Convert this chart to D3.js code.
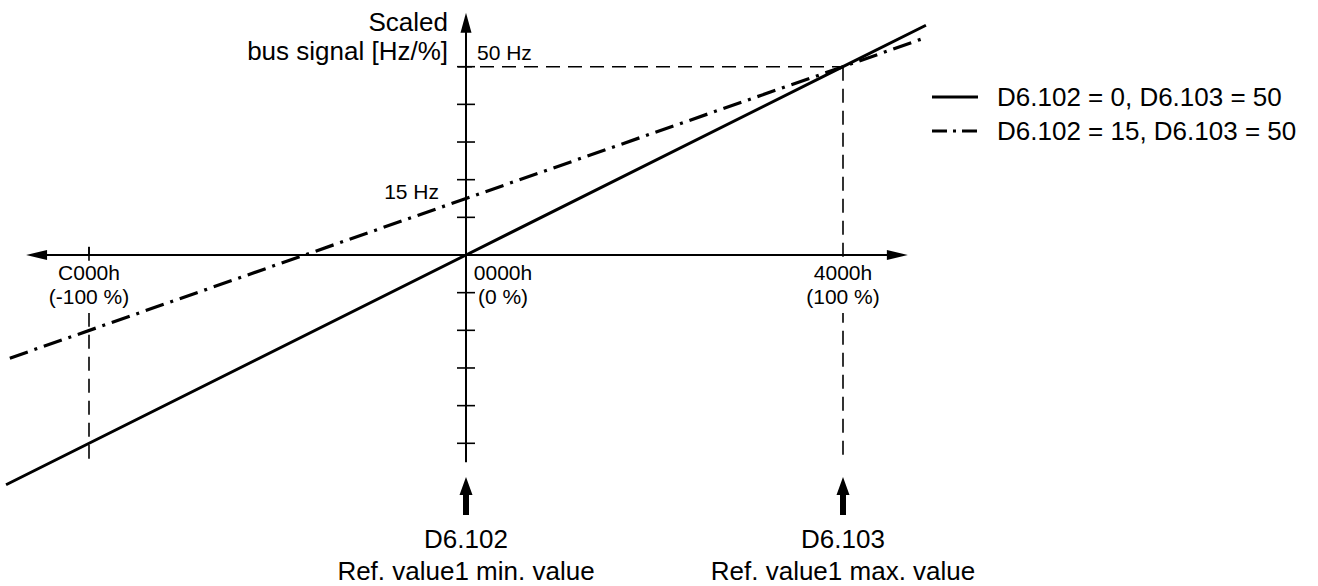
<!DOCTYPE html>
<html>
<head>
<meta charset="utf-8">
<script src="https://cdn.jsdelivr.net/npm/d3@7"></script>
<style>
  html, body { margin: 0; padding: 0; background: #fff; }
  svg { display: block; font-family: "Liberation Sans", Arial, sans-serif; }
</style>
</head>
<body>
<figure id="scaling" style="margin:0"></figure>
<script>
// bus signal in % (x) vs scaled value in Hz (y)
const xTicks = [-100, 0, 100];
const xTickHex = ["C000h", "0000h", "4000h"];
const xTickPct = ["(-100 %)", "(0 %)", "(100 %)"];
const yTicks = [-50, -40, -30, -20, -10, 10, 20, 30, 40, 50];
const yMarks = [50, 15];
const yMarkLabels = ["50 Hz", "15 Hz"];

const solidX = [-122, 0, 100, 122];
const solidY = [-61, 0, 50, 61];
const dashDotX = [-121, 0, 100, 121];
const dashDotY = [-27.4, 15, 50, 57.4];

const legendLabels = ["D6.102 = 0, D6.103 = 50", "D6.102 = 15, D6.103 = 50"];
const paramNames = ["D6.102", "D6.103"];
const paramDesc = ["Ref. value1 min. value", "Ref. value1 max. value"];
const paramAt = [0, 100];

const xAxisRange = [-116.7, 117.2];
const yAxisRange = [-55, 64.3];

const width = 1318, height = 586;

const svg = d3.select("#scaling").append("svg")
  .attr("width", width)
  .attr("height", height);

const x = d3.scaleLinear().domain([-100, 100]).range([89, 843]);
const y = d3.scaleLinear().domain([0, 50]).range([255, 66.7]);
const x0 = x(0), yz = y(0);

// dashed guides
const guides = svg.append("g")
  .attr("stroke", "#000")
  .attr("stroke-width", 1.6)
  .attr("stroke-dasharray", "14,8")
  .attr("fill", "none");

guides.append("line")
  .attr("x1", x0 - 8).attr("x2", x(100))
  .attr("y1", y(50)).attr("y2", y(50));
guides.append("line")
  .attr("x1", x(100)).attr("x2", x(100))
  .attr("y1", y(50)).attr("y2", y(yAxisRange[0]));
guides.append("line")
  .attr("x1", x(-100)).attr("x2", x(-100))
  .attr("y1", y(2.2)).attr("y2", y(yAxisRange[0]));

// white boxes behind the x labels break the dashed guides
const xCenters = xTicks.map(t => t === 0 ? x(t) + 37 : x(t));
svg.append("g").selectAll("rect")
  .data(xCenters)
  .join("rect")
  .attr("x", d => d - 44).attr("y", yz + 6)
  .attr("width", 88).attr("height", 52)
  .attr("fill", "#fff");

// axes
const axes = svg.append("g").attr("stroke", "#000").attr("stroke-width", 2);
axes.append("line")
  .attr("x1", x(xAxisRange[0]) + 18).attr("x2", x(xAxisRange[1]) - 18)
  .attr("y1", yz).attr("y2", yz);
axes.append("line")
  .attr("x1", x0).attr("x2", x0)
  .attr("y1", y(yAxisRange[1]) + 18).attr("y2", y(yAxisRange[0]));

// arrow heads
const heads = svg.append("g").attr("fill", "#000");
const xa = x(xAxisRange[0]), xb = x(xAxisRange[1]), yt = y(yAxisRange[1]);
heads.append("path")
  .attr("d", `M${xa},${yz} L${xa + 21},${yz - 5} L${xa + 21},${yz + 5} Z`);
heads.append("path")
  .attr("d", `M${xb},${yz} L${xb - 21},${yz - 5} L${xb - 21},${yz + 5} Z`);
heads.append("path")
  .attr("d", `M${x0},${yt} L${x0 - 5.5},${yt + 20} L${x0 + 5.5},${yt + 20} Z`);

// y ticks
svg.append("g").selectAll("line")
  .data(yTicks)
  .join("line")
  .attr("x1", x0 - 9).attr("x2", x0 + 9)
  .attr("y1", d => y(d)).attr("y2", d => y(d))
  .attr("stroke", "#000").attr("stroke-width", 1.6);

// small tick on the -100 % guide above the axis
svg.append("line")
  .attr("x1", x(-100)).attr("x2", x(-100))
  .attr("y1", yz - 8).attr("y2", yz)
  .attr("stroke", "#000").attr("stroke-width", 1.6);

// x tick labels
const xl = svg.append("g").attr("font-size", 21).attr("text-anchor", "middle");
xTicks.forEach((t, i) => {
  xl.append("text").attr("x", xCenters[i]).attr("y", yz + 25).text(xTickHex[i]);
  xl.append("text").attr("x", xCenters[i]).attr("y", yz + 49).text(xTickPct[i]);
});

// y mark labels
const yl = svg.append("g").attr("font-size", 21);
yl.append("text")
  .attr("x", x0 + 11).attr("y", y(yMarks[0]) - 7)
  .text(yMarkLabels[0]);
yl.append("text")
  .attr("x", x0 - 27).attr("y", y(yMarks[1]))
  .attr("text-anchor", "end")
  .text(yMarkLabels[1]);

// axis title
const title = svg.append("g").attr("font-size", 26).attr("text-anchor", "end");
title.append("text").attr("x", x0 - 18).attr("y", 30.5).text("Scaled");
title.append("text").attr("x", x0 - 18).attr("y", 60).text("bus signal [Hz/%]");

// characteristic lines
const line = d3.line().x(d => x(d[0])).y(d => y(d[1]));

svg.append("path")
  .datum(d3.zip(solidX, solidY))
  .attr("fill", "none")
  .attr("stroke", "#000")
  .attr("stroke-width", 3)
  .attr("d", line);

svg.append("path")
  .datum(d3.zip(dashDotX, dashDotY))
  .attr("fill", "none")
  .attr("stroke", "#000")
  .attr("stroke-width", 3.2)
  .attr("stroke-dasharray", "19,7,3,7")
  .attr("d", line);

// legend
const legend = svg.append("g").attr("transform", "translate(932,97)");
legendLabels.forEach((lab, i) => {
  const g = legend.append("g").attr("transform", `translate(0,${i * 34})`);
  g.append("line")
    .attr("x1", 0).attr("x2", 46)
    .attr("stroke", "#000").attr("stroke-width", 3)
    .attr("stroke-dasharray", i === 0 ? null : "15,6,3,6");
  g.append("text")
    .attr("x", 65).attr("y", 9)
    .attr("font-size", 26)
    .text(lab);
});

// parameter arrows below the axis
const params = svg.append("g");
paramAt.forEach((p, i) => {
  const px = x(p);
  params.append("path")
    .attr("d", `M${px},477 L${px - 6.5},495 L${px - 3},495 L${px - 3},515 L${px + 3},515 L${px + 3},495 L${px + 6.5},495 Z`)
    .attr("fill", "#000");
  params.append("text")
    .attr("x", px).attr("y", 548)
    .attr("text-anchor", "middle").attr("font-size", 26)
    .text(paramNames[i]);
  params.append("text")
    .attr("x", px).attr("y", 580)
    .attr("text-anchor", "middle").attr("font-size", 26)
    .text(paramDesc[i]);
});
</script>
</body>
</html>
